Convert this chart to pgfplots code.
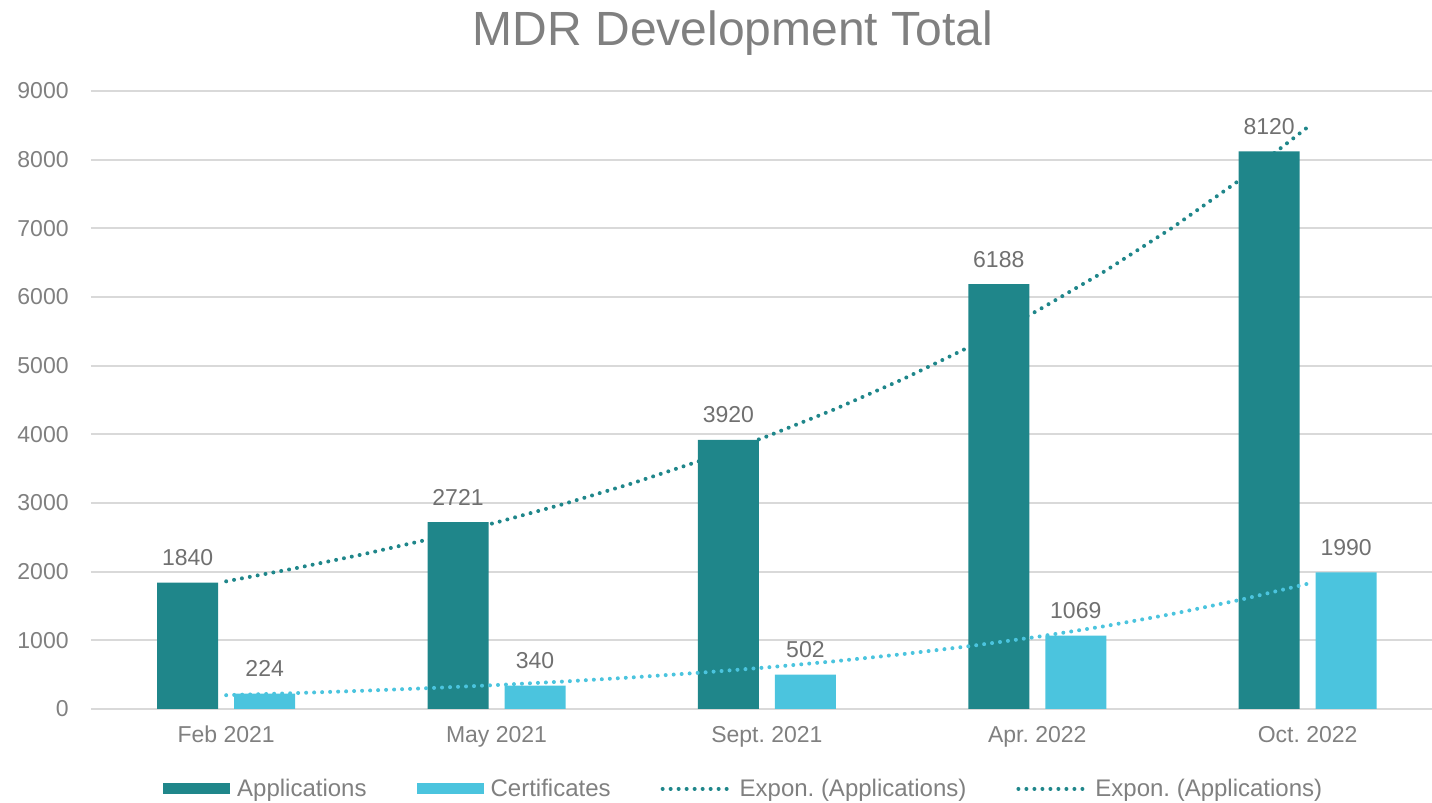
\documentclass[border=0pt]{standalone}
\usepackage{fontspec}
\setmainfont{Liberation Sans}
\usepackage{pgfplots}
\pgfplotsset{compat=1.18}

\definecolor{appcol}{HTML}{1F868A}
\definecolor{certcol}{HTML}{4BC4DE}
\definecolor{gridcol}{HTML}{D9D9D9}
\definecolor{tickgray}{HTML}{808080}
\definecolor{labgray}{HTML}{707070}

\begin{document}
\frenchspacing
\begin{tikzpicture}
% page = 1432 x 803 px at 0.5pt per px
\path[use as bounding box] (-45.5pt,-47pt) rectangle (670.5pt,354.5pt);
\begin{axis}[
    at={(0,0)}, anchor=south west,
    scale only axis,
    width=670.5pt, height=309pt,
    xmin=-0.5, xmax=4.46,
    ymin=0, ymax=9000,
    enlargelimits=false,
    clip=false,
    axis line style={draw=none},
    major tick length=0pt,
    xtick=data,
    xticklabels={Feb 2021,May 2021,Sept. 2021,Apr. 2022,Oct. 2022},
    ytick={0,1000,...,9000},
    scaled y ticks=false,
    /pgf/number format/1000 sep={},
    /pgf/number format/assume math mode=true,
    ymajorgrids=true,
    grid style={draw=gridcol, line width=0.9pt},
    yticklabel style={font=\fontsize{11.5}{13}\selectfont, text=tickgray, anchor=east, inner sep=0pt, xshift=-11pt},
    xticklabel style={font=\fontsize{11.5}{13}\selectfont, text=tickgray, anchor=base, inner sep=0pt, yshift=-17pt},
    title={MDR Development Total},
    title style={at={(0.4787,1)}, anchor=base, yshift=16.6pt, inner sep=0pt,
        font=\fontsize{24}{28}\selectfont, text=tickgray},
    legend columns=4,
    legend cell align=left,
    legend style={at={(0.4860,-0.1294)}, anchor=center, draw=none, fill=none,
        font=\fontsize{12}{14}\selectfont, text=tickgray,
        nodes={inner sep=0pt},
        /tikz/every odd column/.append style={column sep=3.5pt},
        /tikz/every even column/.append style={column sep=25pt}},
    nodes near coords style={font=\fontsize{11.5}{13}\selectfont, text=labgray, anchor=base, inner sep=0pt, yshift=8.5pt},
]
\addplot[ybar, bar width=0.2256, bar shift=-0.1424, fill=appcol, draw=none,
    nodes near coords,
    every node near coord/.append style={xshift=-19.25pt},
    legend image code/.code={\fill[appcol] (0pt,-2.75pt) rectangle (33.5pt,2.75pt);}]
    coordinates {(0,1840) (1,2721) (2,3920) (3,6188) (4,8120)};
\addlegendentry{Applications}
\addplot[ybar, bar width=0.2256, bar shift=0.1424, fill=certcol, draw=none,
    nodes near coords,
    every node near coord/.append style={xshift=19.25pt},
    legend image code/.code={\fill[certcol] (0pt,-2.75pt) rectangle (33.5pt,2.75pt);}]
    coordinates {(0,224) (1,340) (2,502) (3,1069) (4,1990)};
\addlegendentry{Certificates}
% exponential trend lines
\addplot[appcol, mark=none, line width=2pt, line cap=round, dash pattern=on 0pt off 4pt,
    legend image code/.code={\draw[appcol, line width=2pt, line cap=round, dash pattern=on 0pt off 4pt] (0pt,0pt) -- (34pt,0pt);}]
    coordinates {
    (0,1859.6) (0.25,2044.5) (0.5,2247.7) (0.75,2471.2) (1,2717.0)
    (1.25,2987.1) (1.5,3284.0) (1.75,3610.5) (2,3969.5) (2.25,4364.1)
    (2.5,4798.0) (2.75,5275.0) (3,5799.4) (3.25,6376) (3.5,7010)
    (3.75,7707) (4,8473)};
\addlegendentry{Expon. (Applications)}
\addplot[certcol, mark=none, line width=2pt, line cap=round, dash pattern=on 0pt off 4pt,
    legend image code/.code={\draw[appcol, line width=2pt, line cap=round, dash pattern=on 0pt off 4pt] (0pt,0pt) -- (34pt,0pt);}]
    coordinates {
    (0,201.0) (0.25,230.7) (0.5,264.8) (0.75,303.9) (1,348.9)
    (1.25,400.4) (1.5,459.6) (1.75,527.5) (2,605.4) (2.25,694.9)
    (2.5,797.6) (2.75,915.5) (3,1050.8) (3.25,1206.1) (3.5,1384.4)
    (3.75,1589.0) (4,1823.9)};
\addlegendentry{Expon. (Applications)}
\end{axis}
\end{tikzpicture}
\end{document}
